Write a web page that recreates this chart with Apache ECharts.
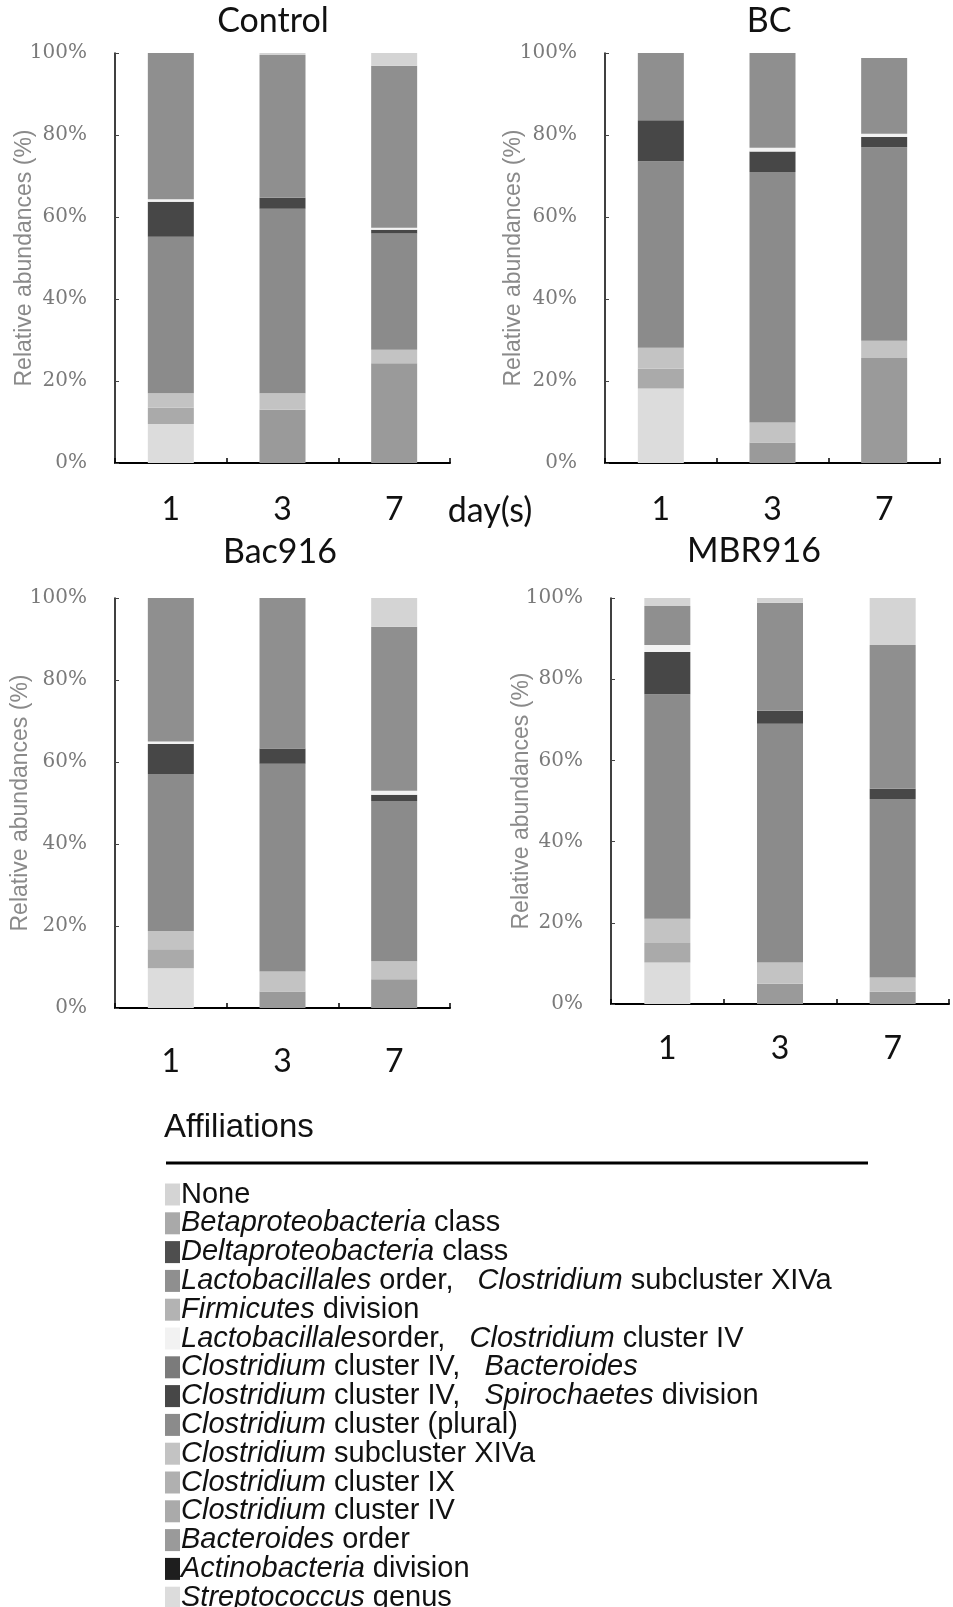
<!DOCTYPE html>
<html>
<head>
<meta charset="utf-8">
<script src="https://cdn.jsdelivr.net/npm/echarts@6/dist/echarts.min.js"></script>
<style>
  html, body { margin: 0; padding: 0; background: #ffffff; }
  #chart { width: 953px; height: 1607px; }
</style>
</head>
<body>
<div id="chart"></div>
<script>
// Treatments (one panel each) and sampling days
const panels = ['Control', 'BC', 'Bac916', 'MBR916'];
const days = ['1', '3', '7'];
const yTicks = [0, 20, 40, 60, 80, 100];

// Affiliations in legend order (top of the stack first)
const affiliations = [
  'None',
  'Betaproteobacteria class',
  'Deltaproteobacteria class',
  'Lactobacillales order, Clostridium subcluster XIVa',
  'Firmicutes division',
  'Lactobacillalesorder, Clostridium cluster IV',
  'Clostridium cluster IV, Bacteroides',
  'Clostridium cluster IV, Spirochaetes division',
  'Clostridium cluster (plural)',
  'Clostridium subcluster XIVa',
  'Clostridium cluster IX',
  'Clostridium cluster IV',
  'Bacteroides order',
  'Actinobacteria division',
  'Streptococcus genus'
];
// Legend labels with the taxon names set in italics
const affiliationLabels = [
  'None',
  '{i|Betaproteobacteria} class',
  '{i|Deltaproteobacteria} class',
  '{i|Lactobacillales} order,   {i|Clostridium} subcluster XIVa',
  '{i|Firmicutes} division',
  '{i|Lactobacillales}order,   {i|Clostridium} cluster IV',
  '{i|Clostridium} cluster IV,   {i|Bacteroides}',
  '{i|Clostridium} cluster IV,   {i|Spirochaetes} division',
  '{i|Clostridium} cluster (plural)',
  '{i|Clostridium} subcluster XIVa',
  '{i|Clostridium} cluster IX',
  '{i|Clostridium} cluster IV',
  '{i|Bacteroides} order',
  '{i|Actinobacteria} division',
  '{i|Streptococcus} genus'
];

// Relative abundances (%) per affiliation:
// Control d1,d3,d7 | BC d1,d3,d7 | Bac916 d1,d3,d7 | MBR916 d1,d3,d7
const none            = [0, 0.5, 3.1,   0, 0, 0,        0, 0, 7.0,       2.0, 1.2, 11.6];
const betaproteo      = [0, 0, 0,       0, 0, 0,        0, 0, 0,         0, 0, 0];
const deltaproteo     = [0, 0, 0,       0, 0, 0,        0, 0, 0,         0, 0, 0];
const lactoXIVa       = [35.7, 34.8, 39.5, 16.4, 23.1, 18.5, 35.0, 36.7, 40.0, 9.6, 26.6, 35.4];
const firmicutes      = [0, 0, 0,       0, 0, 0,        0, 0, 0,         0, 0, 0];
const lactoIV         = [0.6, 0, 0.5,   0, 0.9, 0.8,    0.6, 0, 1.0,     1.7, 0, 0];
const clostIVBact     = [0, 0, 0,       0, 0, 0,        0, 0, 0,         0, 0, 0];
const clostIVSpiro    = [8.5, 2.7, 0.9, 10.0, 5.0, 2.5, 7.3, 3.7, 1.5,   10.4, 3.2, 2.5];
const clostPlural     = [38.2, 45.0, 28.4, 45.5, 61.1, 47.2, 38.3, 50.7, 39.1, 55.3, 58.8, 44.0];
const clostXIVa       = [3.5, 4.0, 3.3, 5.1, 4.9, 4.2,  4.5, 4.9, 4.4,   6.0, 5.2, 3.5];
const clostIX         = [0, 0, 0,       0, 0, 0,        0, 0, 0,         0, 0, 0];
const clostIV         = [4.0, 0, 0,     4.8, 0, 0,      4.6, 0, 0,       4.8, 0, 0];
const bacteroides     = [0, 13.0, 24.3, 0, 5.0, 25.6,   0, 4.0, 7.0,     0, 5.0, 3.0];
const actinobacteria  = [0, 0, 0,       0, 0, 0,        0, 0, 0,         0, 0, 0];
const streptococcus   = [9.5, 0, 0,     18.2, 0, 0,     9.7, 0, 0,       10.2, 0, 0];

const abundance = [none, betaproteo, deltaproteo, lactoXIVa, firmicutes, lactoIV,
  clostIVBact, clostIVSpiro, clostPlural, clostXIVa, clostIX, clostIV,
  bacteroides, actinobacteria, streptococcus];

// Grey fills, one per affiliation
const fills = ['#d4d4d4', '#a9a9a9', '#4e4e4e', '#8f8f8f', '#b3b3b3', '#f2f2f2',
  '#7b7b7b', '#474747', '#8b8b8b', '#c3c3c3', '#b0b0b0', '#aaaaaa',
  '#9a9a9a', '#1e1e1e', '#dcdcdc'];

// Panel geometry
const grids = [
  { left: 115, top: 53, width: 335, height: 410 },
  { left: 605, top: 53, width: 335, height: 410 },
  { left: 115, top: 598, width: 335, height: 410 },
  { left: 611, top: 598, width: 338, height: 406 }
];
const yNameGap = [79, 80, 83, 78];
const xLabelMargin = [31, 31, 38, 29];

const chart = echarts.init(document.getElementById('chart'));

const xAxes = grids.map((g, p) => ({
  type: 'category', gridIndex: p, data: days,
  axisLine: { lineStyle: { color: '#000', width: 2 } },
  axisTick: { show: true, inside: true, length: 5, lineStyle: { color: '#000', width: 1.5 } },
  axisLabel: { margin: xLabelMargin[p], fontSize: 32, fontFamily: 'Lato', color: '#111' }
}));

const yAxes = grids.map((g, p) => ({
  type: 'value', gridIndex: p, min: yTicks[0], max: yTicks[yTicks.length - 1],
  interval: yTicks[1] - yTicks[0],
  name: 'Relative abundances (%)', nameLocation: 'middle', nameGap: yNameGap[p],
  nameMoveOverlap: false,
  nameTextStyle: { fontSize: 23, fontFamily: 'Liberation Sans', color: '#8a8a8a' },
  axisLine: { show: true, lineStyle: { color: '#000', width: 1.5 } },
  axisTick: { show: true, inside: true, length: 4, lineStyle: { color: '#444' } },
  splitLine: { show: false },
  axisLabel: { formatter: '{value}%', margin: 28, fontSize: 20,
    fontFamily: 'DejaVu Serif', color: '#7a7a7a' }
}));

const series = [];
grids.forEach((g, p) => {
  // Stack from the bottom (last affiliation) to the top (first affiliation)
  for (let k = affiliations.length - 1; k >= 0; k--) {
    series.push({
      type: 'bar', name: affiliations[k], stack: 'panel' + p,
      xAxisIndex: p, yAxisIndex: p, barWidth: 46,
      itemStyle: { color: fills[k] },
      data: abundance[k].slice(p * 3, p * 3 + 3)
    });
  }
});

const titleFont = '34px Lato';
chart.setOption({
  animation: false,
  backgroundColor: '#ffffff',
  grid: grids,
  xAxis: xAxes,
  yAxis: yAxes,
  series: series,
  legend: {
    data: affiliations,
    orient: 'vertical', left: 160, top: 1175, height: 460,
    itemWidth: 15, itemHeight: 22, itemGap: -0.2,
    icon: 'rect',
    selectedMode: false,
    formatter: name => affiliationLabels[affiliations.indexOf(name)],
    textStyle: {
      fontSize: 29, fontFamily: 'Liberation Sans', color: '#111', lineHeight: 27.8, padding: [0, 0, 0, -4],
      rich: { i: { fontStyle: 'italic', fontSize: 29, fontFamily: 'Liberation Sans', color: '#111', lineHeight: 27.8 } }
    }
  },
  graphic: [
    { type: 'text', x: 273, y: 21, style: { text: panels[0], font: titleFont, fill: '#111', textAlign: 'center', textVerticalAlign: 'middle' } },
    { type: 'text', x: 769, y: 21, style: { text: panels[1], font: titleFont, fill: '#111', textAlign: 'center', textVerticalAlign: 'middle' } },
    { type: 'text', x: 280, y: 552, style: { text: panels[2], font: titleFont, fill: '#111', textAlign: 'center', textVerticalAlign: 'middle' } },
    { type: 'text', x: 754, y: 551, style: { text: panels[3], font: titleFont, fill: '#111', textAlign: 'center', textVerticalAlign: 'middle' } },
    { type: 'text', x: 490, y: 511, style: { text: 'day(s)', font: titleFont, fill: '#111', textAlign: 'center', textVerticalAlign: 'middle' } },
    { type: 'text', x: 164, y: 1128, style: { text: 'Affiliations', font: '33px "Liberation Sans"', fill: '#111', textAlign: 'left', textVerticalAlign: 'middle' } },
    { type: 'line', shape: { x1: 166, y1: 1163, x2: 868, y2: 1163 }, style: { stroke: '#000', lineWidth: 3 } }
  ]
});
</script>
</body>
</html>
